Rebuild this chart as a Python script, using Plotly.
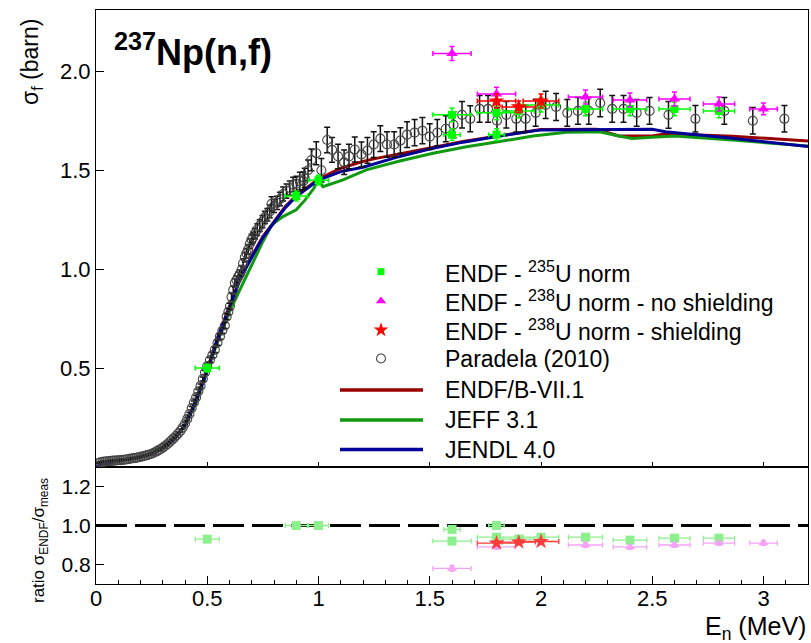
import plotly.graph_objects as go

# ---------------- Paradela (2010) measurement ----------------
par_E = [0.010, 0.020, 0.030, 0.040, 0.050, 0.060, 0.070, 0.080, 0.090, 0.100,
         0.110, 0.120, 0.130, 0.140, 0.150, 0.160, 0.170, 0.180, 0.190, 0.200,
         0.210, 0.220, 0.230, 0.240, 0.250, 0.260, 0.270, 0.280, 0.290, 0.300,
         0.310, 0.320, 0.330, 0.340, 0.350, 0.360, 0.370, 0.380, 0.390, 0.400,
         0.410, 0.420, 0.430, 0.440, 0.450, 0.460, 0.470, 0.480, 0.490, 0.500,
         0.512, 0.523, 0.534, 0.546, 0.557, 0.568, 0.579, 0.587, 0.595, 0.602,
         0.609, 0.617, 0.624, 0.631, 0.639, 0.646, 0.654, 0.661, 0.669, 0.676,
         0.684, 0.691, 0.699, 0.706, 0.714, 0.725, 0.736, 0.748, 0.759, 0.770,
         0.781, 0.789, 0.800, 0.814, 0.827, 0.841, 0.856, 0.871, 0.886, 0.901,
         0.916, 0.931, 0.938, 0.953, 0.968, 0.990, 1.013, 1.039, 1.061, 1.088,
         1.115, 1.137, 1.163, 1.193, 1.220, 1.248, 1.278, 1.308, 1.340, 1.368,
         1.398, 1.432, 1.467, 1.500, 1.534, 1.572, 1.607, 1.645, 1.682, 1.724,
         1.762, 1.802, 1.844, 1.889, 1.931, 1.976, 2.021, 2.068, 2.118, 2.166,
         2.215, 2.266, 2.320, 2.371, 2.430, 2.488, 2.573, 2.694, 2.824, 2.952,
         3.094]
par_sig = [0.020, 0.024, 0.026, 0.027, 0.029, 0.030, 0.031, 0.032, 0.033, 0.034,
           0.035, 0.036, 0.037, 0.039, 0.041, 0.043, 0.045, 0.046, 0.049, 0.051,
           0.054, 0.057, 0.060, 0.063, 0.067, 0.072, 0.078, 0.084, 0.090, 0.098,
           0.106, 0.115, 0.125, 0.136, 0.146, 0.158, 0.170, 0.183, 0.200, 0.220,
           0.243, 0.268, 0.298, 0.326, 0.352, 0.383, 0.410, 0.445, 0.478, 0.510,
           0.541, 0.566, 0.592, 0.628, 0.660, 0.690, 0.715, 0.760, 0.785, 0.812,
           0.860, 0.895, 0.930, 0.945, 0.962, 0.975, 0.995, 1.030, 1.060, 1.080,
           1.100, 1.128, 1.150, 1.160, 1.180, 1.200, 1.220, 1.240, 1.262, 1.275,
           1.292, 1.330, 1.320, 1.335, 1.355, 1.380, 1.395, 1.410, 1.428, 1.432,
           1.445, 1.445, 1.460, 1.500, 1.552, 1.586, 1.500, 1.653, 1.603, 1.570,
           1.540, 1.570, 1.605, 1.580, 1.600, 1.630, 1.660, 1.630, 1.630, 1.650,
           1.680, 1.690, 1.700, 1.670, 1.690, 1.710, 1.730, 1.780, 1.760, 1.810,
           1.810, 1.750, 1.780, 1.760, 1.760, 1.790, 1.830, 1.820, 1.790, 1.800,
           1.800, 1.840, 1.810, 1.810, 1.790, 1.800, 1.780, 1.760, 1.800, 1.750,
           1.760]
par_err = [0.004, 0.004, 0.004, 0.004, 0.004, 0.004, 0.004, 0.004, 0.004, 0.004,
           0.004, 0.004, 0.004, 0.004, 0.004, 0.004, 0.004, 0.004, 0.004, 0.004,
           0.004, 0.004, 0.004, 0.004, 0.004, 0.004, 0.004, 0.004, 0.005, 0.005,
           0.005, 0.005, 0.005, 0.005, 0.006, 0.006, 0.006, 0.006, 0.007, 0.007,
           0.007, 0.008, 0.008, 0.008, 0.009, 0.009, 0.010, 0.010, 0.010, 0.011,
           0.012, 0.012, 0.013, 0.013, 0.014, 0.014, 0.015, 0.015, 0.016, 0.016,
           0.020, 0.020, 0.021, 0.021, 0.022, 0.022, 0.023, 0.023, 0.024, 0.024,
           0.025, 0.025, 0.026, 0.026, 0.027, 0.030, 0.030, 0.031, 0.031, 0.032,
           0.032, 0.036, 0.033, 0.034, 0.034, 0.035, 0.036, 0.036, 0.037, 0.038,
           0.045, 0.046, 0.050, 0.052, 0.055, 0.058, 0.060, 0.064, 0.062, 0.062,
           0.062, 0.062, 0.063, 0.063, 0.065, 0.065, 0.065, 0.064, 0.064, 0.065,
           0.065, 0.066, 0.066, 0.065, 0.066, 0.066, 0.066, 0.067, 0.066, 0.068,
           0.068, 0.066, 0.067, 0.067, 0.067, 0.068, 0.069, 0.068, 0.068, 0.068,
           0.068, 0.069, 0.068, 0.068, 0.068, 0.068, 0.068, 0.067, 0.068, 0.067,
           0.067]

# ---------------- ENDF-normalised measurements (this work) ----------------
u235_E = [0.5, 0.9, 1.0, 1.6, 1.6, 1.8, 1.8, 1.9, 2.0, 2.2, 2.4, 2.6, 2.8]
u235_sig = [0.50, 1.37, 1.45, 1.78, 1.68, 1.79, 1.68, 1.80, 1.83, 1.81, 1.81, 1.81, 1.80]
u235_dE = [0.054, 0.05, 0.045, 0.086, 0.037, 0.086, 0.035, 0.07, 0.08, 0.077, 0.075, 0.07, 0.07]
u235_dsig = [0.02, 0.025, 0.025, 0.035, 0.03, 0.035, 0.03, 0.035, 0.035, 0.035, 0.035, 0.035, 0.035]
u235_ratio = [0.93, 1.00, 1.00, 0.92, 0.98, 0.94, 1.00, 0.93, 0.94, 0.94, 0.925, 0.935, 0.935]
u235_dratio = [0.008, 0.008, 0.008, 0.015, 0.012, 0.015, 0.012, 0.012, 0.012, 0.012, 0.012, 0.012, 0.012]

u238ns_E = [1.6, 1.8, 2.2, 2.4, 2.6, 2.8, 3.0]
u238ns_sig = [2.09, 1.885, 1.87, 1.855, 1.86, 1.835, 1.81]
u238ns_dE = [0.086, 0.086, 0.077, 0.075, 0.07, 0.07, 0.062]
u238ns_dsig = [0.035, 0.035, 0.035, 0.035, 0.035, 0.035, 0.03]
u238ns_ratio = [0.78, 0.89, 0.90, 0.89, 0.90, 0.91, 0.91]
u238ns_dratio = [0.015, 0.012, 0.012, 0.012, 0.012, 0.012, 0.012]

u238s_E = [1.8, 1.9, 2.0]
u238s_sig = [1.85, 1.82, 1.85]
u238s_dE = [0.086, 0.075, 0.08]
u238s_dsig = [0.035, 0.03, 0.035]
u238s_ratio = [0.91, 0.915, 0.918]
u238s_dratio = [0.012, 0.012, 0.012]

# ---------------- Evaluated libraries ----------------
endf_E = [0.0, 0.05, 0.1, 0.15, 0.2, 0.25, 0.3, 0.35, 0.4, 0.45, 0.5, 0.55, 0.6,
          0.65, 0.7, 0.75, 0.8, 0.85, 0.9, 0.95, 1.0, 1.1, 1.2, 1.26, 1.35, 1.5,
          1.65, 1.8, 2.0, 2.25, 2.3, 2.35, 2.5, 2.56, 2.86, 3.2]
endf_sig = [0.0, 0.02, 0.03, 0.04, 0.05, 0.067, 0.10, 0.142, 0.212, 0.338, 0.495, 0.665, 0.815,
            0.96, 1.065, 1.165, 1.24, 1.315, 1.372, 1.415, 1.455, 1.51, 1.545, 1.56, 1.58, 1.615,
            1.645, 1.672, 1.706, 1.707, 1.69, 1.673, 1.673, 1.685, 1.672, 1.648]

jeff_E = [0.0, 0.1, 0.2, 0.3, 0.35, 0.4, 0.45, 0.5, 0.55, 0.6, 0.65, 0.7, 0.75,
          0.79, 0.84, 0.9, 0.94, 0.98, 0.999, 1.02, 1.11, 1.215, 1.365, 1.515,
          1.665, 1.814, 1.964, 2.113, 2.263, 2.35, 2.41, 2.5, 2.6, 2.86, 3.2]
jeff_sig = [0.0, 0.03, 0.05, 0.10, 0.14, 0.21, 0.325, 0.48, 0.645, 0.785, 0.905, 1.02, 1.14,
            1.224, 1.266, 1.30, 1.35, 1.41, 1.455, 1.417, 1.451, 1.502, 1.547, 1.586,
            1.619, 1.645, 1.673, 1.692, 1.695, 1.673, 1.661, 1.667, 1.673, 1.653, 1.622]

jendl_E = [0.0, 0.05, 0.1, 0.15, 0.2, 0.25, 0.3, 0.35, 0.4, 0.45, 0.5, 0.55, 0.6,
           0.65, 0.7, 0.75, 0.8, 0.85, 0.9, 0.95, 1.0, 1.1, 1.2, 1.35, 1.5, 1.65,
           1.8, 2.0, 2.25, 2.5, 2.56, 2.86, 3.2]
jendl_sig = [0.0, 0.02, 0.03, 0.04, 0.05, 0.065, 0.10, 0.14, 0.21, 0.335, 0.49, 0.66, 0.81,
             0.955, 1.06, 1.16, 1.235, 1.31, 1.367, 1.41, 1.45, 1.493, 1.515, 1.565, 1.607, 1.642,
             1.671, 1.704, 1.707, 1.707, 1.695, 1.662, 1.62]

ratio_ref = 1.0
E_range = [0.0, 3.2]

# ---------------- styling ----------------
FONT = "Liberation Sans, Arial, Helvetica, sans-serif"
C_U235 = "#00ff00"
C_U238NS = "#ff00ff"
C_U238S = "#ff0000"
C_U235_L = "#8cf08c"
C_U238NS_L = "#f5a3f5"
C_U238S_L = "#ff3c3c"
C_ENDF = "#990000"
C_JEFF = "#119911"
C_JENDL = "#000099"

# plot-area pixel box (inside margins): x 96..808, y 10..584
L, R, T, B = 96, 808, 10, 584
W, H = 811, 643


def px(xp):
    return (xp - L) / (R - L)


def py(yp):
    return (B - yp) / (B - T)


split = py(467)

fig = go.Figure()


def err(vals, color, width=3, thick=1.5):
    return dict(type="data", array=vals, visible=True, color=color,
                thickness=thick, width=width)


# --- upper panel: evaluations ---
for E, s, c in [(endf_E, endf_sig, C_ENDF), (jeff_E, jeff_sig, C_JEFF),
                (jendl_E, jendl_sig, C_JENDL)]:
    fig.add_trace(go.Scatter(x=E, y=s, mode="lines", xaxis="x2", yaxis="y2",
                             line=dict(color=c, width=3), showlegend=False,
                             hoverinfo="skip"))

# --- upper panel: measurements ---
fig.add_trace(go.Scatter(
    x=par_E, y=par_sig, mode="markers", xaxis="x2", yaxis="y2",
    marker=dict(symbol="circle-open", size=9, color="#444444",
                line=dict(width=1.1, color="#444444")),
    error_y=err(par_err, "#111111", width=3, thick=1.5), showlegend=False))

fig.add_trace(go.Scatter(
    x=u235_E, y=u235_sig, mode="markers", xaxis="x2", yaxis="y2",
    marker=dict(symbol="square", size=8, color=C_U235),
    error_x=err(u235_dE, C_U235, 2.5, 1.5), error_y=err(u235_dsig, C_U235, 2.5, 1.5),
    showlegend=False))
fig.add_trace(go.Scatter(
    x=u238ns_E, y=u238ns_sig, mode="markers", xaxis="x2", yaxis="y2",
    marker=dict(symbol="triangle-up", size=10, color=C_U238NS),
    error_x=err(u238ns_dE, C_U238NS, 2.5, 1.5), error_y=err(u238ns_dsig, C_U238NS, 2.5, 1.5),
    showlegend=False))
fig.add_trace(go.Scatter(
    x=u238s_E, y=u238s_sig, mode="markers", xaxis="x2", yaxis="y2",
    marker=dict(symbol="star", size=12, color=C_U238S),
    error_x=err(u238s_dE, C_U238S, 2.5, 1.5), error_y=err(u238s_dsig, C_U238S, 2.5, 1.5),
    showlegend=False))

# --- lower panel: ratios ---
fig.add_trace(go.Scatter(x=E_range, y=[ratio_ref, ratio_ref], mode="lines",
                         line=dict(color="black", width=3.2, dash="31px,8px"),
                         showlegend=False, hoverinfo="skip"))
fig.add_trace(go.Scatter(
    x=u235_E, y=u235_ratio, mode="markers",
    marker=dict(symbol="square", size=9, color=C_U235_L),
    error_x=err(u235_dE, C_U235_L, 2.5, 1.3), error_y=err(u235_dratio, C_U235_L, 2.5, 1.3),
    showlegend=False))
fig.add_trace(go.Scatter(
    x=u238ns_E, y=u238ns_ratio, mode="markers",
    marker=dict(symbol="triangle-up", size=9, color=C_U238NS_L),
    error_x=err(u238ns_dE, C_U238NS_L, 2.5, 1.3), error_y=err(u238ns_dratio, C_U238NS_L, 2.5, 1.3),
    showlegend=False))
fig.add_trace(go.Scatter(
    x=u238s_E, y=u238s_ratio, mode="markers",
    marker=dict(symbol="star", size=12, color=C_U238S_L),
    error_x=err(u238s_dE, C_U238S_L, 2.5, 1.3), error_y=err(u238s_dratio, C_U238S_L, 2.5, 1.3),
    showlegend=False))

# --- legend (drawn on a pixel-space overlay) ---
leg_rows = [271.7, 301.0, 330.0, 358.5, 390.0, 420.0, 449.5]
leg_labels = ["ENDF - <sup>235</sup>U norm",
              "ENDF - <sup>238</sup>U norm - no shielding",
              "ENDF - <sup>238</sup>U norm - shielding",
              "Paradela (2010)",
              "ENDF/B-VII.1",
              "JEFF 3.1",
              "JENDL 4.0"]
leg_marker_x = 381
leg_line_x = [340, 423]
leg_text_x = 443

for yrow, sym, size, col, lw in [
        (leg_rows[0], "square", 7, C_U235, 0),
        (leg_rows[1], "triangle-up", 9, C_U238NS, 0),
        (leg_rows[2], "star", 11, C_U238S, 0),
        (leg_rows[3], "circle-open", 9, "#444444", 1.1)]:
    fig.add_trace(go.Scatter(x=[leg_marker_x], y=[yrow], mode="markers",
                             xaxis="x3", yaxis="y3",
                             marker=dict(symbol=sym, size=size, color=col,
                                         line=dict(width=lw, color=col)),
                             showlegend=False, hoverinfo="skip"))
for yrow, col in [(leg_rows[4], C_ENDF), (leg_rows[5], C_JEFF), (leg_rows[6], C_JENDL)]:
    fig.add_trace(go.Scatter(x=leg_line_x, y=[yrow, yrow], mode="lines",
                             xaxis="x3", yaxis="y3",
                             line=dict(color=col, width=3.5),
                             showlegend=False, hoverinfo="skip"))

annotations = []
for yrow, lab in zip(leg_rows, leg_labels):
    annotations.append(dict(x=px(leg_text_x), y=py(yrow), xref="paper", yref="paper",
                            text=lab, showarrow=False, xanchor="left", yanchor="middle",
                            font=dict(family=FONT, size=23, color="black")))

# plot title and axis titles
annotations.append(dict(x=px(112), y=py(50), xref="paper", yref="paper",
                        text="<b><sup>237</sup>Np(n,f)</b>", showarrow=False,
                        xanchor="left", yanchor="middle",
                        font=dict(family=FONT, size=36, color="black")))
annotations.append(dict(x=px(31), y=py(62), xref="paper", yref="paper",
                        text="σ<sub>f</sub> (barn)", showarrow=False, textangle=-90,
                        xanchor="center", yanchor="middle",
                        font=dict(family=FONT, size=23, color="black")))
annotations.append(dict(x=px(40), y=py(541), xref="paper", yref="paper",
                        text="ratio σ<sub>ENDF</sub>/σ<sub>meas</sub>", showarrow=False,
                        textangle=-90, xanchor="center", yanchor="middle",
                        font=dict(family=FONT, size=17, color="black")))
annotations.append(dict(x=1.0, y=py(628), xref="paper", yref="paper",
                        text="E<sub>n</sub> (MeV)", showarrow=False,
                        xanchor="right", yanchor="middle",
                        font=dict(family=FONT, size=25, color="black")))

axis_common = dict(showline=True, linecolor="black", linewidth=1, mirror=True,
                   showgrid=False, zeroline=False, ticks="inside",
                   tickcolor="black", tickwidth=1,
                   tickfont=dict(family=FONT, size=22, color="black"))

fig.update_layout(
    width=W, height=H,
    margin=dict(l=L, r=W - R, t=T, b=H - B),
    paper_bgcolor="white", plot_bgcolor="rgba(0,0,0,0)",
    showlegend=False,
    annotations=annotations,
    xaxis=dict(axis_common, domain=[0, 1], anchor="y", range=E_range,
               dtick=0.5, tick0=0, ticklen=8, ticklabelstandoff=-5,
               minor=dict(dtick=0.1, ticklen=4, ticks="inside", tickcolor="black")),
    yaxis=dict(axis_common, domain=[0, split], anchor="x", range=[0.7, 1.3],
               tickvals=[0.8, 1.0, 1.2], ticktext=["0.8", "1.0", "1.2"], ticklen=8,
               tickfont=dict(family=FONT, size=21, color="black")),
    xaxis2=dict(axis_common, domain=[0, 1], anchor="y2", range=E_range,
                dtick=0.5, tick0=0, ticklen=5, showticklabels=False),
    yaxis2=dict(axis_common, domain=[split, 1], anchor="x2", range=[0.0, 2.31],
                tickvals=[0.5, 1.0, 1.5, 2.0], ticktext=["0.5", "1.0", "1.5", "2.0"],
                ticklen=8),
    xaxis3=dict(domain=[0, 1], anchor="y3", range=[L, R], visible=False,
                fixedrange=True),
    yaxis3=dict(domain=[0, 1], anchor="x3", range=[B, T], visible=False,
                fixedrange=True),
)

fig.write_html("out.html")
